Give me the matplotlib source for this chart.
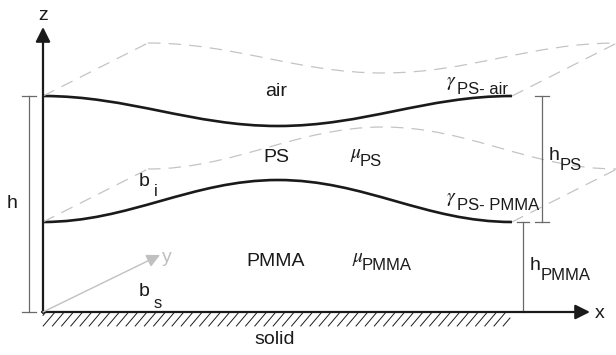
import numpy as np
import matplotlib
matplotlib.use("Agg")
import matplotlib.pyplot as plt
from matplotlib.path import Path
from matplotlib.patches import PathPatch

plt.rcParams["mathtext.fontset"] = "stix"

# interface profiles (pixel coords, y grows downward)
# anchors: left end, extremum, right end; handle = horizontal bezier handle length
anchor_x = [43, 278, 512]
ps_air_y = [96, 126, 96]
ps_pmma_y = [222, 180, 222]
handle = 86

# perspective offset of the back copies (along y direction)
depth = (105, -53)

# layer labels
layer_names = ["air", "PS", "PMMA"]
layer_y = [92, 158, 262]

BLACK = "#1a1a1a"
DASH = "#c4c4c4"
DIM = "#6a6a6a"
SANS = "Liberation Sans"
DASHES = (10, 6.5)

fig = plt.figure(figsize=(6.16, 3.55), dpi=100)
ax = fig.add_axes([0, 0, 1, 1])
ax.set_xlim(0, 616)
ax.set_ylim(355, 0)
ax.axis("off")


def profile_path(ys, dx=0, dy=0):
    verts = [(anchor_x[0] + dx, ys[0] + dy)]
    codes = [Path.MOVETO]
    for i in range(1, len(anchor_x)):
        verts += [(anchor_x[i - 1] + handle + dx, ys[i - 1] + dy),
                  (anchor_x[i] - handle + dx, ys[i] + dy),
                  (anchor_x[i] + dx, ys[i] + dy)]
        codes += [Path.CURVE4] * 3
    return Path(verts, codes)


# dashed back copies of the interfaces + connecting edges
for ys in (ps_air_y, ps_pmma_y):
    ax.add_patch(PathPatch(profile_path(ys, *depth), fill=False, edgecolor=DASH,
                           lw=0.9, linestyle=(0, DASHES)))
    for i in (0, -1):
        ax.plot([anchor_x[i], anchor_x[i] + depth[0]], [ys[i], ys[i] + depth[1]],
                color=DASH, lw=0.9, dashes=DASHES)

# interfaces
for ys in (ps_air_y, ps_pmma_y):
    ax.add_patch(PathPatch(profile_path(ys), fill=False, edgecolor=BLACK,
                           lw=1.9, capstyle="butt"))

# axes
ax.annotate("", xy=(43, 27), xytext=(43, 313),
            arrowprops=dict(arrowstyle="-|>", lw=1.6, color=BLACK,
                            mutation_scale=22, shrinkA=0, shrinkB=0))
ax.annotate("", xy=(590, 312), xytext=(42, 312),
            arrowprops=dict(arrowstyle="-|>", lw=1.6, color=BLACK,
                            mutation_scale=22, shrinkA=0, shrinkB=0))
ax.annotate("", xy=(160, 255), xytext=(43, 312),
            arrowprops=dict(arrowstyle="-|>", lw=1.0, color="#c0c0c0",
                            mutation_scale=20, shrinkA=0, shrinkB=0))
ax.text(43, 16, "z", fontsize=14, family=SANS, ha="center", va="center", color=BLACK)
ax.text(600, 313, "x", fontsize=14, family=SANS, ha="center", va="center", color=BLACK)
ax.text(167, 258, "y", fontsize=14, family=SANS, ha="center", va="center", color="#c0c0c0")

# solid hatching
for x0 in np.arange(34, 512, 9.2):
    xa, ya, xb, yb = x0, 326, x0 + 11, 313
    if xa < 43:
        ya = 326 - (43 - xa) * 13 / 11
        xa = 43
    if xb > 510:
        yb = 326 - (510 - x0) * 13 / 11
        xb = 510
    ax.plot([xa, xb], [ya, yb], color=BLACK, lw=0.7)
ax.text(275, 340, "solid", fontsize=14, family=SANS, ha="center", va="center", color=BLACK)


# dimension lines
def dim(x, y0, y1, cap=7):
    ax.plot([x, x], [y0, y1], color=DIM, lw=0.9)
    for y in (y0, y1):
        ax.plot([x - cap, x + cap], [y, y], color=DIM, lw=0.9)


dim(29, 96, 312)
dim(542, 96, 222)
ax.plot([523, 523], [222, 312], color=DIM, lw=0.9)
ax.plot([517, 529], [222, 222], color=DIM, lw=0.9)


def sub_label(x, y, main, sub, size=14, subsize=12, dx=0, dy=10, color=BLACK):
    ax.text(x, y, main, fontsize=size, family=SANS, ha="left", va="center", color=color)
    ax.text(x + dx, y + dy, sub, fontsize=subsize, family=SANS, ha="left",
            va="center", color=color)


ax.text(12, 203, "h", fontsize=14, family=SANS, ha="center", va="center", color=BLACK)
sub_label(549, 156, "h", "PS", dx=11, dy=10)
sub_label(530, 265, "h", "PMMA", dx=11, dy=10)

# layers
for name, y in zip(layer_names, layer_y):
    ax.text(276, y, name, fontsize=14, family=SANS, ha="center", va="center", color=BLACK)

# viscosities
ax.text(350, 154, r"$\mu$", fontsize=14, ha="left", va="center", color=BLACK)
ax.text(360, 161, "PS", fontsize=12, family=SANS, ha="left", va="center", color=BLACK)
ax.text(352, 258, r"$\mu$", fontsize=14, ha="left", va="center", color=BLACK)
ax.text(362, 266, "PMMA", fontsize=12, family=SANS, ha="left", va="center", color=BLACK)

# surface tensions
ax.text(446, 82, r"$\gamma$", fontsize=14, ha="left", va="center", color=BLACK)
ax.text(457, 89, "PS- air", fontsize=12, family=SANS, ha="left", va="center", color=BLACK)
ax.text(446, 199, r"$\gamma$", fontsize=14, ha="left", va="center", color=BLACK)
ax.text(457, 206, "PS- PMMA", fontsize=12, family=SANS, ha="left", va="center", color=BLACK)

# boundaries
sub_label(139, 181, "b", "i", dx=15, dy=10)
sub_label(139, 292, "b", "s", dx=15, dy=11)

fig.savefig("out.png", dpi=100)
